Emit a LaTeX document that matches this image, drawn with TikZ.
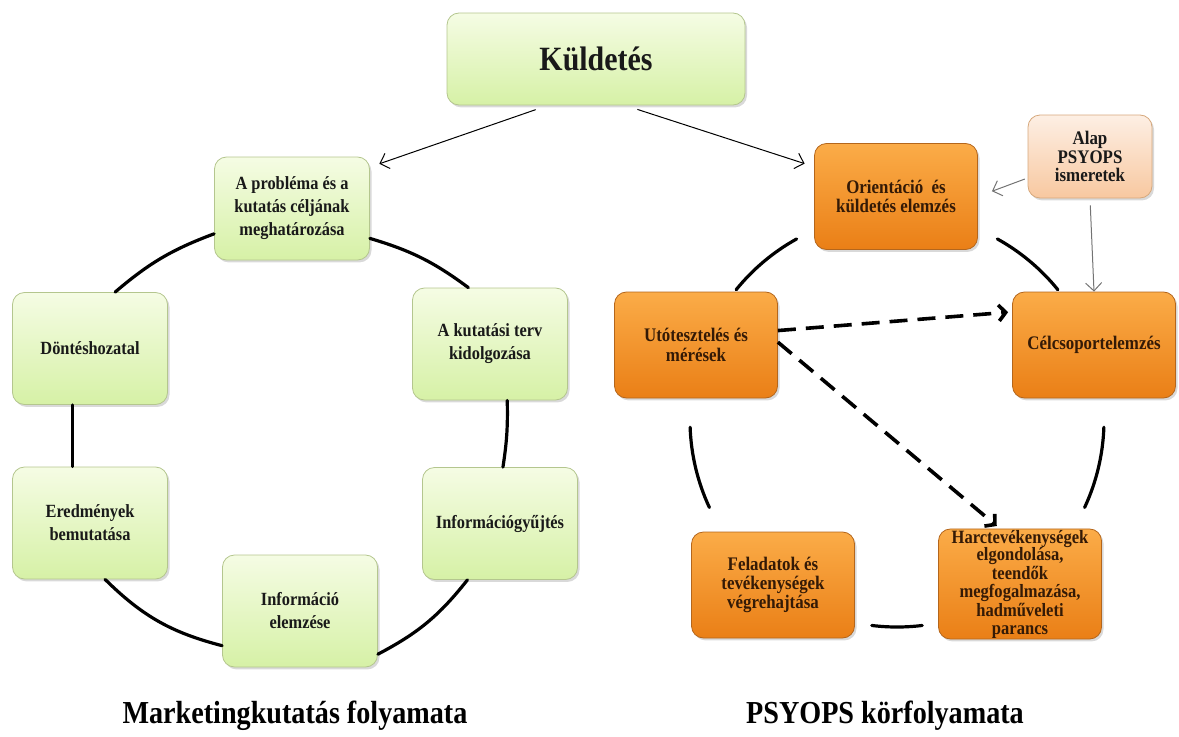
\documentclass[tikz,border=0pt]{standalone}
\usepackage{fontspec}
\setmainfont{Liberation Serif}[FakeStretch=0.88]
\usetikzlibrary{arrows.meta,shadows}

\definecolor{grtop}{RGB}{245,252,228}
\definecolor{grbot}{RGB}{214,241,166}
\definecolor{grline}{RGB}{180,198,142}
\definecolor{ortop}{RGB}{251,172,72}
\definecolor{orbot}{RGB}{234,127,22}
\definecolor{orline}{RGB}{180,102,28}
\definecolor{ortext}{RGB}{52,26,6}
\definecolor{petop}{RGB}{253,239,228}
\definecolor{pebot}{RGB}{248,200,160}
\definecolor{peline}{RGB}{214,168,124}
\definecolor{arrgray}{RGB}{115,115,115}

\tikzset{
  box/.style={rounded corners=6pt, align=center, inner sep=2pt,
    drop shadow={shadow xshift=1pt, shadow yshift=-1.2pt, opacity=.3}},
  greenbox/.style={box, draw=grline, top color=grtop, bottom color=grbot,
    minimum width=77.5pt, minimum height=56pt,
    font=\fontsize{9.3}{11.5}\selectfont\bfseries, text=black!90},
  orangebox/.style={box, draw=orline, top color=ortop, bottom color=orbot,
    minimum width=81.5pt, minimum height=53pt,
    font=\fontsize{9.6}{9.6}\selectfont\bfseries, text=ortext},
  peachbox/.style={box, draw=peline, top color=petop, bottom color=pebot,
    minimum width=62pt, minimum height=41.5pt,
    font=\fontsize{9.6}{9.4}\selectfont\bfseries, text=black!90},
  caption/.style={font=\fontsize{16}{19}\selectfont\bfseries},
  ringline/.style={line width=1.6pt, line cap=round},
  thinarrow/.style={line width=0.5pt, -{Straight Barb[length=4pt,width=8pt]}},
  grayarrow/.style={thinarrow, draw=arrgray},
  dasharrow/.style={line width=1.8pt, dash pattern=on 9pt off 5pt,
    -{Straight Barb[length=3.5pt,width=8pt]}}
}

\begin{document}
\begin{tikzpicture}[x=0.5pt,y=0.5pt]
  \useasboundingbox (0,0) rectangle (1179,736);

  \node[greenbox, minimum width=149pt, minimum height=46pt,
    font=\fontsize{17}{20}\selectfont\bfseries] (kuld) at (596,677) {Küldetés};

  % marketingkutatas
  \node[greenbox, minimum height=51.5pt] (prob) at (292,527.5) {A probléma és a\\kutatás céljának\\meghatározása};
  \node[greenbox] (kut) at (490,392) {A kutatási terv\\kidolgozása};
  \node[greenbox] (dont) at (90,387.5) {Döntéshozatal};
  \node[greenbox] (ered) at (90,213) {Eredmények\\bemutatása};
  \node[greenbox] (infgy) at (500,212.5) {Információgyűjtés};
  \node[greenbox] (infel) at (300,125) {Információ\\elemzése};

  \draw[ringline] (prob.198) to[bend right=10] (dont.66);
  \draw[ringline] (prob.339) to[bend left=10] (kut.111);
  \draw[ringline] (kut.287) to[bend left=5] (infgy.87);
  \draw[ringline] (dont.253) -- (ered.107);
  \draw[ringline] (ered.285) to[bend right=15] (infel.204);
  \draw[ringline] (infel.331) to[bend right=12] (infgy.240);

  % psyops
  \node[orangebox] (orient) at (896,539.5) {Orientáció~ és\\küldetés elemzés};
  \node[peachbox] (alap) at (1090,579.5) {Alap\\PSYOPS\\ismeretek};
  \node[orangebox] (utot) at (696,391) {Utótesztelés és\\mérések};
  \node[orangebox] (celcs) at (1094,391) {Célcsoportelemzés};
  \node[orangebox] (felad) at (773,151) {Feladatok és\\tevékenységek\\végrehajtása};
  \node[orangebox, minimum height=54pt, inner sep=0.5pt,
    font=\fontsize{9.4}{8.7}\selectfont\bfseries] (harc) at (1020,152)
    {Harctevékenységek\\elgondolása,\\teendők\\megfogalmazása,\\hadműveleti\\parancs};

  \coordinate (ring) at (897,316);
  \foreach \a/\b in {119/141,182/205,263/277,335/358,39/61}
    \draw[ringline] ([shift={(\a:103.5pt)}]ring) arc[start angle=\a, end angle=\b, radius=103.5pt];

  \draw[thinarrow, shorten <=6.5pt, shorten >=5pt] (kuld.224) -- (prob.28);
  \draw[thinarrow, shorten <=6.5pt, shorten >=5pt] (kuld.302) -- (orient.160);
  \draw[grayarrow, shorten <=1.5pt, shorten >=7.5pt] (alap.199) -- (orient.east);
  \draw[grayarrow, shorten <=3.5pt] (alap.south) -- (celcs.north);
  \draw[dasharrow, shorten >=2pt] (utot.10) -- (celcs.158);
  \draw[dasharrow, shorten >=2pt] (utot.2) -- (harc.110);

  \node[caption] (mktitle) at (295,20) {Marketingkutatás folyamata};
  \node[caption] (pstitle) at (885,20) {PSYOPS körfolyamata};
\end{tikzpicture}
\end{document}
